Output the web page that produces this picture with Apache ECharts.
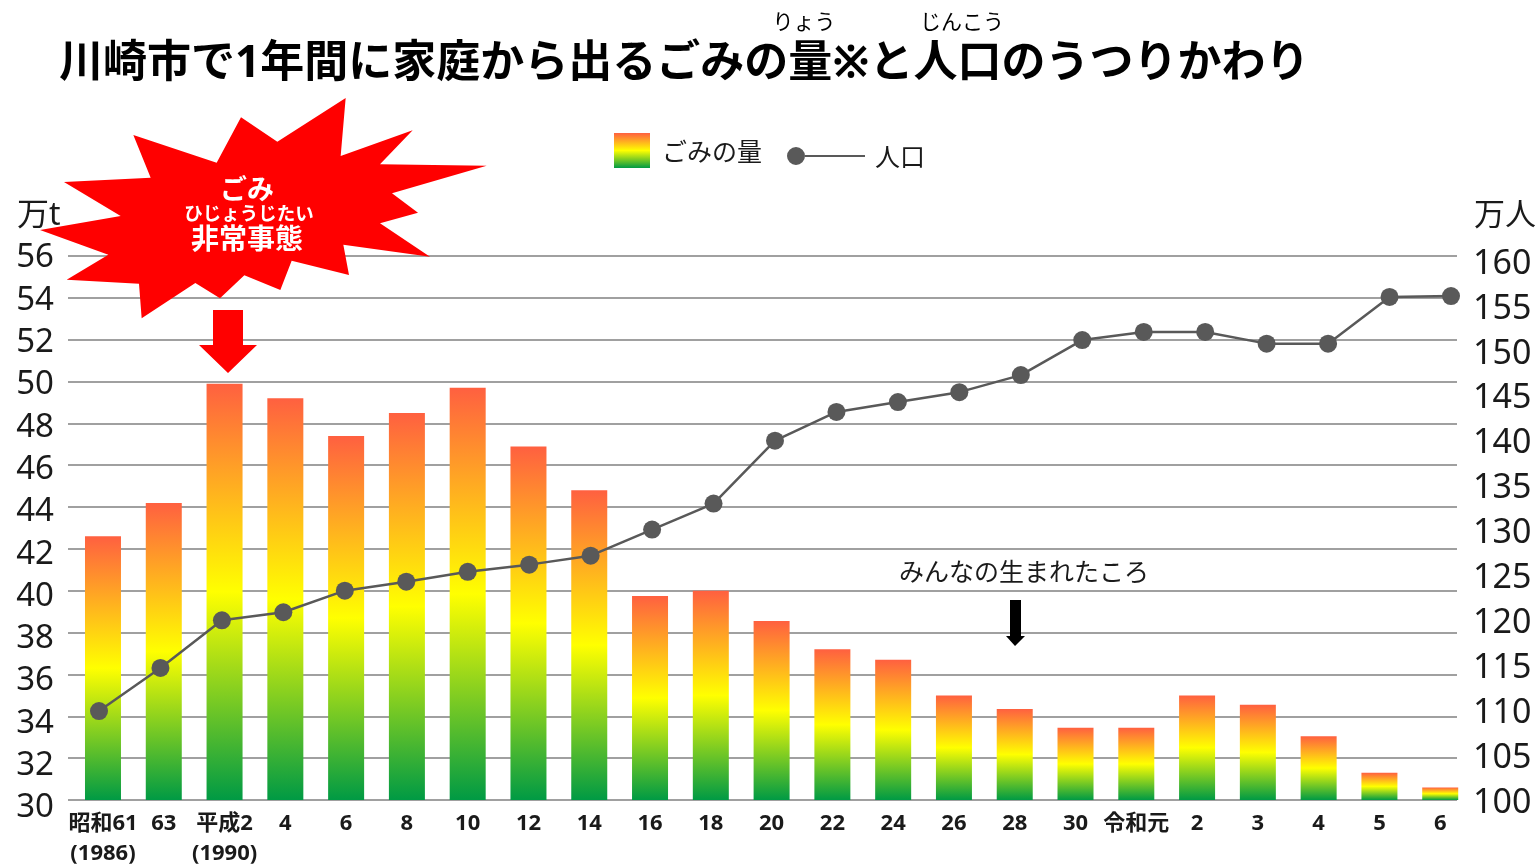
<!DOCTYPE html>
<html>
<head>
	<meta charset="utf-8">
	<title>川崎市で1年間に家庭から出るごみの量と人口</title>
	<script src="https://cdnjs.cloudflare.com/ajax/libs/echarts/6.0.0/echarts.min.js"></script>
	<style>html,body{margin:0;padding:0;background:#fff}</style>
</head>
<body>
	<div id="main" style="width:1537px;height:865px"></div>
	<script type="text/javascript">
		var categories = ['昭和61\n(1986)','63','平成2\n(1990)','4','6','8','10','12','14','16','18','20','22','24','26','28','30','令和元','2','3','4','5','6'];
		var garbage = [42.6,44.2,49.9,49.2,47.4,48.5,49.7,46.9,44.8,39.75,40.0,38.55,37.2,36.7,35.0,34.35,33.45,33.45,35.0,34.55,33.05,31.3,30.6];
		var population = [109.9,114.7,120.0,120.9,123.3,124.3,125.4,126.2,127.2,130.1,133.0,140.0,143.2,144.3,145.4,147.3,151.2,152.1,152.1,150.8,150.8,156.0,156.1];

		var font = '"Noto Sans","Noto Sans CJK JP",sans-serif';
		var textColor = '#1a1a1a';
		var lineColor = '#595959';
		var barColor = new echarts.graphic.LinearGradient(0,0,0,1,[
			{offset:0,color:'#ff6040'},
			{offset:0.5,color:'#ffff00'},
			{offset:1,color:'#009a44'}
		]);

		//爆発の形
		var burst = [[1037,24],[1022,198],[1238,121],[1140,223],[1460,227],[1176,310],[1254,368],[1140,400],[1290,500],[1030,464],[1047,555],[875,512],[841,600],[733,556],[660,625],[586,579],[425,685],[417,581],[200,569],[325,494],[120,420],[362,378],[192,276],[452,263],[400,135],[650,218],[723,82],[832,155]]
			.map(function(p){return [p[0]/3,p[1]/3+90]});

		function label(text,x,y,size,opt){
			opt = opt || {};
			return {
				type:'text',z:20,x:x,y:y,
				style:{
					text:text,fontSize:size,fontFamily:font,
					fontWeight:opt.bold?'bold':'normal',
					fill:opt.color||textColor,
					align:opt.align||'left',verticalAlign:'middle'
				}
			};
		}

		var myChart = echarts.init(document.getElementById('main'));
		var option = {
			animation:false,
			backgroundColor:'#fff',
			legend:[
				{left:614,top:133,padding:0,data:[{name:'ごみの量',icon:'rect'}],itemWidth:36,itemHeight:35,selectedMode:false,
					formatter:'{t|{name}}',
					textStyle:{rich:{t:{fontSize:25,fontFamily:font,color:textColor,padding:[7,0,0,7]}}}},
				{left:787,top:146,padding:0,data:[{name:'人口',icon:'path://M0 10A9 9 0 1 1 18 10A9 9 0 1 1 0 10ZM18 9L78 9L78 11L18 11Z'}],itemWidth:78,itemHeight:20,selectedMode:false,
					formatter:'{t|{name}}',
					textStyle:{rich:{t:{fontSize:25,fontFamily:font,color:textColor,padding:[5,0,0,5]}}}}
			],
			grid:[
				//目盛り線
				{left:68,width:1389,top:256,height:544,outerBoundsMode:'none'},
				//棒
				{left:72.6,width:1398,top:256,height:544,outerBoundsMode:'none'},
				//人口
				{left:99,width:1352,top:261,height:539,outerBoundsMode:'none'},
				//左の数字
				{left:61,width:1389,top:258,height:550,outerBoundsMode:'none'},
				//右の数字
				{left:99,width:1352,top:264,height:539,outerBoundsMode:'none'}
			],
			xAxis:[
				{gridIndex:0,type:'category',data:categories,show:false},
				{gridIndex:1,type:'category',data:categories,
					axisLine:{show:false},axisTick:{show:false},
					axisLabel:{interval:0,margin:9,fontSize:22,fontWeight:'bold',fontFamily:font,color:textColor,lineHeight:30,verticalAlign:'top'}},
				{gridIndex:2,type:'category',data:categories,boundaryGap:false,show:false},
				{gridIndex:3,type:'category',data:categories,show:false},
				{gridIndex:4,type:'category',data:categories,show:false}
			],
			yAxis:[
				{gridIndex:0,type:'value',min:30,max:56,interval:2,
					axisLabel:{show:false},axisLine:{show:false},axisTick:{show:false},
					splitLine:{lineStyle:{color:'#a0a0a0',width:2}}},
				{gridIndex:1,type:'value',min:30,max:56,interval:2,show:false,splitLine:{show:false}},
				{gridIndex:2,type:'value',min:100,max:160,interval:5,show:false,splitLine:{show:false}},
				{gridIndex:3,type:'value',min:30,max:56,interval:2,
					axisLine:{show:false},axisTick:{show:false},splitLine:{show:false},
					axisLabel:{margin:7,fontSize:33,fontFamily:font,color:textColor}},
				{gridIndex:4,type:'value',position:'right',min:100,max:160,interval:5,
					axisLine:{show:false},axisTick:{show:false},splitLine:{show:false},
					axisLabel:{margin:22,fontSize:34,fontFamily:font,color:textColor}}
			],
			series:[
				{name:'ごみの量',type:'bar',xAxisIndex:1,yAxisIndex:1,data:garbage,barWidth:36,
					itemStyle:{color:barColor},z:3},
				{name:'人口',type:'line',xAxisIndex:2,yAxisIndex:2,data:population,
					symbol:'circle',symbolSize:18,
					lineStyle:{color:lineColor,width:2.5},
					itemStyle:{color:lineColor},z:5}
			],
			graphic:[
				label('川崎市で1年間に家庭から出るごみの量※と人口のうつりかわり',59,64,44,{bold:true,color:'#000'}),
				label('りょう',804,23,21,{align:'center',color:'#000'}),
				label('じんこう',962,23,21,{align:'center',color:'#000'}),
				label('万t',17,216,32),
				label('万人',1474,216,31),
				{type:'polygon',z:15,shape:{points:burst},style:{fill:'#ff0000'}},
				label('ごみ',247,191,27,{bold:true,color:'#fff',align:'center'}),
				label('ひじょうじたい',249,215,18.5,{bold:true,color:'#fff',align:'center'}),
				label('非常事態',247,241,28,{bold:true,color:'#fff',align:'center'}),
				{type:'polygon',z:15,shape:{points:[[213,310],[243,310],[243,345],[257,345],[228,373],[199,345],[213,345]]},style:{fill:'#ff0000'}},
				label('みんなの生まれたころ',1024,574,25,{align:'center'}),
				{type:'polygon',z:15,shape:{points:[[1010,600],[1021,600],[1021,636],[1025,636],[1015,646],[1006,636],[1010,636]]},style:{fill:'#000'}}
			]
		};
		myChart.setOption(option);
	</script>
</body>
</html>
